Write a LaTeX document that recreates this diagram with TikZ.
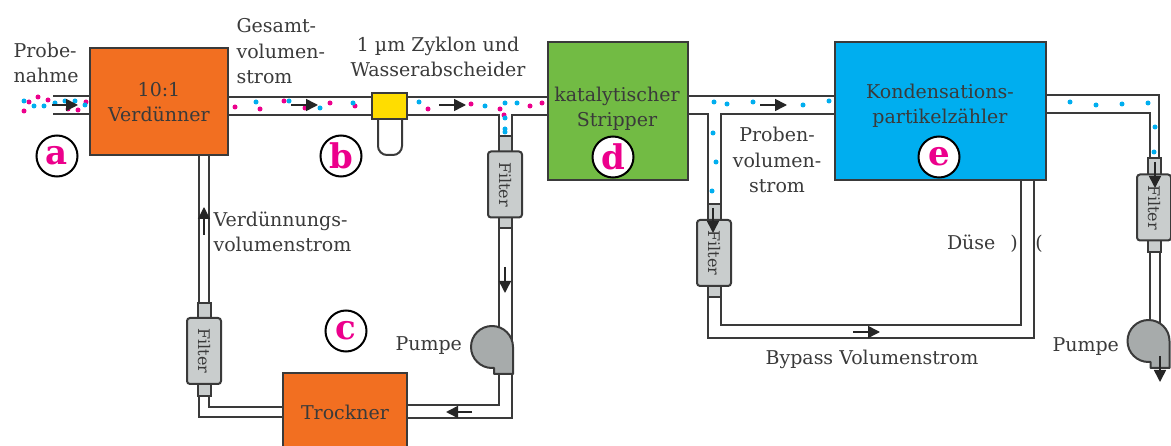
\documentclass[tikz,border=0pt]{standalone}
\usepackage{fontspec}
\setmainfont{DejaVu Serif}
\usepackage{tikz}
\usetikzlibrary{backgrounds,arrows.meta}
\definecolor{linegray}{HTML}{3A3A3A}
\definecolor{orangebox}{HTML}{F26F21}
\definecolor{greenbox}{HTML}{72BB44}
\definecolor{bluebox}{HTML}{00AEEF}
\definecolor{yellowbox}{HTML}{FFDD00}
\definecolor{filtergray}{HTML}{C9CDCD}
\definecolor{pumpgray}{HTML}{A7ABAB}
\definecolor{pink}{HTML}{EC008C}
\definecolor{cyan}{HTML}{00AEEF}

\begin{document}
\begin{tikzpicture}[x=1pt,y=-1pt,
    every node/.style={text=linegray,font=\fontsize{19}{25.5}\selectfont,align=center},
    main_box/.style={draw=linegray,line width=2pt,inner sep=0pt},
    filter_cap/.style={draw=linegray,line width=2pt,fill=filtergray,minimum width=13pt,inner sep=0pt},
    filter_box/.style={draw=linegray,line width=2pt,fill=filtergray,rounded corners=3pt,rotate=-90,
        minimum width=66pt,minimum height=34pt,inner sep=0pt,font=\fontsize{16}{16}\selectfont},
    round_label/.style={circle,draw=black,line width=2pt,fill=white,minimum size=41pt,inner sep=0pt,
        text=pink,font=\fontsize{34}{34}\bfseries\selectfont},
    pipe_big/.style={draw=linegray,line width=2pt,double=white,double distance=16pt},
    pipe_mid/.style={draw=linegray,line width=2pt,double=white,double distance=11pt},
    pipe_small/.style={draw=linegray,line width=2pt,double=white,double distance=8pt},
    pipe_wall/.style={draw=linegray,line width=2pt},
    pipe_mouth/.style={draw=white,line width=11pt},
    flow/.style={draw=black!85,line width=1.6pt,-{Triangle[length=12pt,width=12pt]}},
    pump/.pic={\draw[linegray,line width=2pt,fill=pumpgray,line join=round]
        (1,21) -- (1,27) -- (20,27) -- (20,0) arc[start angle=0,end angle=-270,radius=21] -- cycle;},
    dot_m/.style={circle,fill=pink,inner sep=0pt,minimum size=5pt},
    dot_c/.style={circle,fill=cyan,inner sep=0pt,minimum size=5pt}]
    \useasboundingbox (0,0) rectangle (1171,446);

    % boxes
    \node[main_box,fill=orangebox,minimum width=138pt,minimum height=107pt] (verduenner) at (159,101.5) {};
    \node[main_box,fill=greenbox,minimum width=140pt,minimum height=138pt] (stripper) at (618,111) {};
    \node[main_box,fill=bluebox,minimum width=211pt,minimum height=138pt] (kondens) at (940.5,111) {};
    \node[main_box,fill=orangebox,minimum width=124pt,minimum height=78pt] (trockner) at (345,412) {Trockner};
    \node[draw=linegray,line width=2pt,fill=white,minimum width=24pt,minimum height=44pt,rounded corners=9pt] (cup) at (390,133) {};
    \node[main_box,fill=yellowbox,minimum width=35pt,minimum height=26pt] (zyklon) at (389.5,106) {};

    % filters and pumps
    \node[filter_cap,minimum height=92pt] (cap_a) at (505,182) {};
    \node[filter_box] (filter_a) at (505,184.5) {Filter};
    \node[filter_cap,minimum height=93pt] (cap_b) at (714,250.5) {};
    \node[filter_box] (filter_b) at (714,253) {Filter};
    \node[filter_cap,minimum height=93pt] (cap_c) at (204,349.5) {};
    \node[filter_box] (filter_c) at (204,351) {Filter};
    \node[filter_cap,minimum height=94pt] (cap_d) at (1154.5,205) {};
    \node[filter_box] (filter_d) at (1154,207.5) {Filter};
    \pic at (493,347) {pump};
    \pic at (1149.5,341) {pump};
    \coordinate (pump_in) at (505,345);
    \coordinate (pump_out) at (505,374);
    \coordinate (pump2_in) at (1154.5,340);

    % pipes
    \coordinate (probe_in) at (53,105);
    \coordinate (tee_a) at (505,105);
    \coordinate (tee_b) at (714,105);
    \coordinate (corner_a) at (1159,95);
    \coordinate (corner_b) at (1150,113);
    \coordinate (bypass) at (1027,332);
    \begin{scope}[on background layer]
        \draw[pipe_mid] (tee_a) -- (cap_a);
        \draw[pipe_mid] (tee_b) -- (cap_b);
        \draw[pipe_big] (probe_in) -- (probe_in -| verduenner.west);
        \draw[pipe_big] (zyklon -| verduenner.east) -- (zyklon);
        \draw[pipe_big] (zyklon) -- (zyklon -| stripper.west);
        \draw[pipe_big] (tee_b -| stripper.east) -- (tee_b -| kondens.west);
        \draw[pipe_mouth] (tee_a) -- ++(0,12);
        \draw[pipe_mouth] (tee_b) -- ++(0,12);
        \draw[pipe_mid] (cap_a) -- (pump_in);
        \draw[pipe_mid] (pump_out) |- (trockner);
        \draw[pipe_small] (trockner) -| (cap_c);
        \draw[pipe_small] (cap_c) -- (cap_c |- verduenner.south);
        \draw[pipe_mid] (cap_b) |- (bypass) -- (bypass |- kondens.south);
        \draw[pipe_wall] (kondens.east |- corner_a) -- (corner_a) -- (corner_a |- cap_d.north);
        \draw[pipe_wall] (kondens.east |- corner_b) -- (corner_b) -- (corner_b |- cap_d.north);
        \draw[pipe_small] (cap_d) -- (pump2_in);
    \end{scope}

    % particles
    \foreach \x/\y in {29/102,24/111,38/97,48/100,68/109,78/110,86/102,235/107,260/109,284/101,305/108,330/103,355/106,428/109,471/104,500/109,530/106,542/103,504/115}
        \node[dot_m] (m\x) at (\x,\y) {};
    \foreach \x/\y in {24/101,34/106,44/106,55/103,65/101,75/101,85/105,256/102,289/101,320/108,353/103,419/102,485/106,505/103,517/103,505/118,505/129,505/132,714/102,727/104,753/102,803/105,829/101,713/133,716/162,712/191,1070/102,1096/105,1122/104,1148/103,1155/127,1154/152}
        \node[dot_c] (c\x) at (\x,\y) {};

    % flow arrows
    \coordinate (fa1) at (52,105);  \coordinate (fa2) at (78,105);
    \coordinate (fb1) at (291,105); \coordinate (fb2) at (318,105);
    \coordinate (fc1) at (439,105); \coordinate (fc2) at (466,105);
    \coordinate (fd1) at (760,105); \coordinate (fd2) at (787,105);
    \coordinate (fe1) at (505,267); \coordinate (fe2) at (505,293);
    \coordinate (ff1) at (472,412); \coordinate (ff2) at (446,412);
    \coordinate (fg1) at (204,235); \coordinate (fg2) at (204,207);
    \coordinate (fh1) at (713,208); \coordinate (fh2) at (713,233);
    \coordinate (fi1) at (853,332); \coordinate (fi2) at (880,332);
    \coordinate (fj1) at (1155,162); \coordinate (fj2) at (1155,188);
    \coordinate (fk1) at (1160,356); \coordinate (fk2) at (1160,382);
    \foreach \n in {a,b,c,d,e,f,g,h,i,j,k}
        \draw[flow] (f\n1) -- (f\n2);

    % labels
    \node[anchor=base west,align=left] (probe) at (10,83) {Probe-\\nahme};
    \node[anchor=base west,align=left] (gesamt) at (233,84) {Gesamt-\\volumen-\\strom};
    \node[anchor=base] (zyklon_text) at (438,77) {1 µm Zyklon und\\Wasserabscheider};
    \node[anchor=base] (verd_box_text) at (159,122) {10:1\\Verdünner};
    \node[anchor=base] (stripper_text) at (617,127) {katalytischer\\Stripper};
    \node[anchor=base] (kondens_text) at (940,124) {Kondensations-\\partikelzähler};
    \node[anchor=base] (proben) at (777,193) {Proben-\\volumen-\\strom};
    \node[anchor=base west,align=left] (verd_text) at (210,252) {Verdünnungs-\\volumenstrom};
    \node[anchor=base west] (pumpe_a) at (392,351) {Pumpe};
    \node[anchor=base west] (pumpe_b) at (1049,352) {Pumpe};
    \node[anchor=base east] (duese) at (999,250) {Düse};
    \node[anchor=base] (klammer_a) at (1014,250) {)};
    \node[anchor=base] (klammer_b) at (1039,250) {(};
    \node[anchor=base] (bypass_text) at (872,365) {Bypass Volumenstrom};

    % letters
    \node[round_label] (a) at (57,156) {a};
    \node[round_label] (b) at (341,156) {b};
    \node[round_label] (c) at (346,331) {c};
    \node[round_label] (d) at (613,157) {d};
    \node[round_label] (e) at (939,157) {e};
\end{tikzpicture}
\end{document}
